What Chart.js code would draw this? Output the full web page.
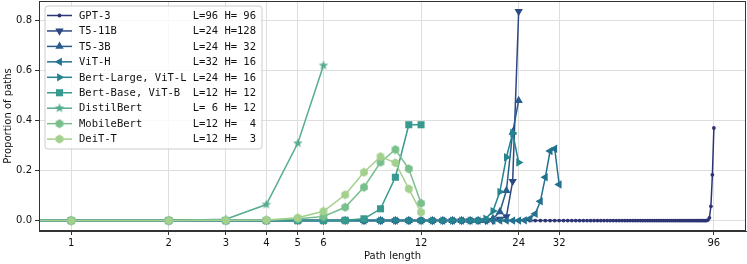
<!DOCTYPE html>
<html>
<head>
<meta charset="utf-8">
<script src="https://cdn.jsdelivr.net/npm/chart.js@4.4.1/dist/chart.umd.min.js"></script>
<style>
  html, body { margin: 0; padding: 0; background: #fff; overflow: hidden; }
  #wrap { width: 747px; height: 264px; overflow: hidden; }
  #pathChart { display: block; margin-top: -4px; }
</style>
</head>
<body>
<div id="wrap"><canvas id="pathChart" width="751" height="268"></canvas></div>
<script>
// proportion of paths per path length (index = path length, starting at 0)
const gpt3 = [
    0, 0, 0, 0, 0, 0, 0, 0, 0, 0,
    0, 0, 0, 0, 0, 0, 0, 0, 0, 0,
    0, 0, 0, 0, 0, 0, 0, 0, 0, 0,
    0, 0, 0, 0, 0, 0, 0, 0, 0, 0,
    0, 0, 0, 0, 0, 0, 0, 0, 0, 0,
    0, 0, 0, 0, 0, 0, 0, 0, 0, 0,
    0, 0, 0, 0, 0, 0, 0, 0, 0, 0,
    0, 0, 0, 0, 0, 0, 0, 0, 0, 0,
    0, 0, 0, 0, 0, 0, 0, 0, 0, 0,
    0, 0, 0.002, 0.011, 0.057, 0.183, 0.37
];
const t5_11b = [
    0, 0, 0, 0, 0, 0, 0, 0, 0, 0,
    0, 0, 0, 0, 0, 0, 0, 0, 0, 0,
    0, 0.006, 0.016, 0.157, 0.836
];
const t5_3b = [
    0, 0, 0, 0, 0, 0, 0, 0, 0, 0,
    0, 0, 0, 0, 0, 0, 0, 0, 0, 0,
    0.008, 0.035, 0.12, 0.353, 0.48
];
const vitH = [
    0, 0, 0, 0, 0, 0, 0, 0, 0, 0,
    0, 0, 0, 0, 0, 0, 0, 0, 0, 0,
    0, 0, 0, 0, 0, 0.001, 0.008, 0.027, 0.077, 0.173,
    0.278, 0.287, 0.144
];
const bertLarge = [
    0, 0, 0, 0, 0, 0, 0, 0, 0, 0,
    0, 0, 0, 0, 0, 0, 0, 0, 0, 0.008,
    0.038, 0.115, 0.253, 0.35, 0.232
];
const bertBase = [0, 0, 0, 0, 0, 0, 0, 0.001, 0.007, 0.047, 0.173, 0.383, 0.383];
const distilBert = [0, 0, 0, 0.005, 0.064, 0.309, 0.62];
const mobileBert = [0, 0, 0, 0, 0.001, 0.007, 0.016, 0.053, 0.133, 0.233, 0.284, 0.207, 0.069];
const deitT = [0, 0, 0, 0.001, 0.002, 0.011, 0.037, 0.103, 0.193, 0.256, 0.231, 0.127, 0.033];

const modelNames = ['GPT-3', 'T5-11B', 'T5-3B', 'ViT-H', 'Bert-Large, ViT-L', 'Bert-Base, ViT-B', 'DistilBert', 'MobileBert', 'DeiT-T'];
const layers = [96, 24, 24, 32, 24, 12, 6, 12, 12];
const heads = [96, 128, 32, 16, 16, 12, 12, 4, 3];
const seriesValues = [gpt3, t5_11b, t5_3b, vitH, bertLarge, bertBase, distilBert, mobileBert, deitT];

const xTicks = [1, 2, 3, 4, 5, 6, 12, 24, 32, 96];
const yTicks = [0, 0.2, 0.4, 0.6, 0.8];

// crest-like palette, dark to light
const colors = ['#2c3473', '#2b4883', '#285d8d', '#23718f', '#25858f', '#389a8e', '#55ac8e', '#79bf8c', '#a3d08d'];

function makeMarker(draw, size, color) {
    const c = document.createElement('canvas');
    c.width = size;
    c.height = size;
    const g = c.getContext('2d');
    g.fillStyle = color;
    g.translate(size / 2, size / 2);
    draw(g);
    return c;
}

function starPath(g) {
    const ro = 5, ri = 2.1;
    g.beginPath();
    for (let k = 0; k < 10; k++) {
        const r = k % 2 ? ri : ro;
        const a = -Math.PI / 2 + k * Math.PI / 5;
        g.lineTo(Math.cos(a) * r, Math.sin(a) * r);
    }
    g.closePath();
    g.fill();
}

function hexPath(g) {
    const r = 4.4;
    g.beginPath();
    for (let k = 0; k < 6; k++) {
        const a = -Math.PI / 2 + k * Math.PI / 3;
        g.lineTo(Math.cos(a) * r, Math.sin(a) * r);
    }
    g.closePath();
    g.fill();
}

const markers = [
    { style: 'circle', radius: 1.9, rotation: 0 },
    { style: 'triangle', radius: 4.8, rotation: 180 },
    { style: 'triangle', radius: 4.8, rotation: 0 },
    { style: 'triangle', radius: 4.8, rotation: 270 },
    { style: 'triangle', radius: 4.8, rotation: 90 },
    { style: 'rect', radius: 5, rotation: 0 },
    { style: makeMarker(starPath, 12, colors[6]), radius: 5, rotation: 0 },
    { style: makeMarker(hexPath, 10, colors[7]), radius: 4.4, rotation: 0 },
    { style: makeMarker(hexPath, 10, colors[8]), radius: 4.4, rotation: 0 },
];

const datasets = seriesValues.map((vals, i) => ({
    label: modelNames[i],
    data: vals.map((v, n) => ({ x: n, y: v })),
    borderColor: colors[i],
    backgroundColor: colors[i],
    borderWidth: 1.5,
    pointStyle: markers[i].style,
    pointRotation: markers[i].rotation,
    pointRadius: ctx => (ctx.raw && ctx.raw.x === 0 ? 0 : markers[i].radius),
    pointBorderWidth: 0,
    tension: 0,
    fill: false,
    order: seriesValues.length - i,
}));

const frameAndLegend = {
    id: 'frameAndLegend',
    afterDatasetsDraw(chart) {
        const ctx = chart.ctx;
        const a = chart.chartArea;
        ctx.save();
        ctx.strokeStyle = '#333';
        ctx.lineWidth = 1;
        ctx.strokeRect(a.left + 0.5, a.top + 0.5, a.right - a.left - 1, a.bottom - a.top - 1);

        // legend box, upper left of the axes
        const bx = a.left + 6, by = a.top + 5, bw = 217, bh = 143, r = 3;
        ctx.beginPath();
        ctx.moveTo(bx + r, by);
        ctx.arcTo(bx + bw, by, bx + bw, by + bh, r);
        ctx.arcTo(bx + bw, by + bh, bx, by + bh, r);
        ctx.arcTo(bx, by + bh, bx, by, r);
        ctx.arcTo(bx, by, bx + bw, by, r);
        ctx.closePath();
        ctx.fillStyle = 'rgba(255,255,255,0.8)';
        ctx.fill();
        ctx.strokeStyle = '#cccccc';
        ctx.lineWidth = 1;
        ctx.stroke();

        ctx.font = '10.5px "DejaVu Sans Mono", monospace';
        ctx.textBaseline = 'middle';
        modelNames.forEach((name, i) => {
            const y = by + 9.5 + i * 15.45;
            ctx.strokeStyle = colors[i];
            ctx.fillStyle = colors[i];
            ctx.lineWidth = 1.5;
            ctx.beginPath();
            ctx.moveTo(bx + 2, y);
            ctx.lineTo(bx + 27, y);
            ctx.stroke();
            Chart.helpers.drawPoint(ctx, {
                pointStyle: markers[i].style,
                rotation: markers[i].rotation,
                radius: markers[i].radius,
                borderWidth: 0,
            }, bx + 14.5, y);
            const label = name.padEnd(18) + 'L=' + String(layers[i]).padStart(2) + ' H=' + String(heads[i]).padStart(3);
            ctx.fillStyle = '#111';
            ctx.fillText(label, bx + 34, y + 0.5);
        });
        ctx.restore();
    }
};

const tickFont = { family: '"DejaVu Sans", sans-serif', size: 10 };

new Chart(document.getElementById('pathChart'), {
    type: 'line',
    data: { datasets },
    options: {
        responsive: false,
        devicePixelRatio: 1,
        animation: false,
        layout: { padding: { left: 0, right: 1, top: 1, bottom: 0 } },
        plugins: { legend: { display: false }, tooltip: { enabled: false } },
        scales: {
            x: {
                type: 'logarithmic',
                min: 0.796,
                max: 120.6,
                afterBuildTicks: scale => { scale.ticks = xTicks.map(v => ({ value: v })); },
                afterFit: scale => {
                    scale.height = 33;
                    scale.paddingLeft = 0;
                    scale.paddingRight = 0;
                },
                ticks: {
                    autoSkip: false,
                    maxRotation: 0,
                    padding: 2,
                    color: '#111',
                    font: tickFont,
                    callback: v => String(v),
                },
                grid: { color: '#dedede', lineWidth: 1, tickColor: '#333', tickLength: 4 },
                border: { display: true, color: '#333', width: 1 },
                title: {
                    display: true,
                    text: 'Path length',
                    color: '#111',
                    font: tickFont,
                    padding: { top: 0, bottom: 2 },
                },
            },
            y: {
                type: 'linear',
                min: -0.0418,
                max: 0.8778,
                afterBuildTicks: scale => { scale.ticks = yTicks.map(v => ({ value: v })); },
                afterFit: scale => {
                    scale.width = 39;
                    scale.paddingTop = 0;
                    scale.paddingBottom = 0;
                },
                ticks: {
                    padding: 3,
                    color: '#111',
                    font: tickFont,
                    callback: v => v.toFixed(1),
                },
                grid: { color: '#dedede', lineWidth: 1, tickColor: '#333', tickLength: 4 },
                border: { display: true, color: '#333', width: 1 },
                title: {
                    display: true,
                    text: 'Proportion of paths',
                    color: '#111',
                    font: tickFont,
                    padding: { top: 2, bottom: 0 },
                },
            },
        },
    },
    plugins: [frameAndLegend],
});
</script>
</body>
</html>
